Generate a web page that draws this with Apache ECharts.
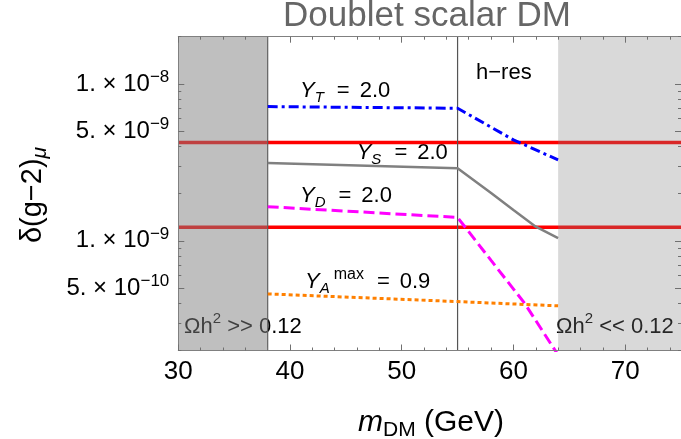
<!DOCTYPE html>
<html><head><meta charset="utf-8">
<script src="https://cdn.jsdelivr.net/npm/echarts@6/dist/echarts.min.js"></script>
<style>html,body{margin:0;padding:0;background:#fff}#c{width:681px;height:439px}</style>
</head><body><div id="c"></div>
<script>
const FONT = "'Liberation Sans', Arial, sans-serif";
const xMin = 30, xMax = 75;
const yMin = 2e-10, yMax = 2e-8;
const xMajorTicks = [30, 40, 50, 60, 70];
const xMinorTicks = [32,34,36,38,42,44,46,48,52,54,56,58,62,64,66,68,72,74];
const yMajorTicks = [5e-10, 1e-9, 5e-9, 1e-8];
const yTickMantissa = ['5.', '1.', '5.', '1.'];
const yTickExponent = ['−10', '−9', '−9', '−8'];
const yMinorTicks = [2e-10,3e-10,4e-10,6e-10,7e-10,8e-10,9e-10,2e-9,3e-9,4e-9,6e-9,7e-9,8e-9,9e-9,2e-8];

// curves
const massYT = [38, 55, 60, 64];
const valYT  = [7.17e-9, 7.0e-9, 4.4e-9, 3.28e-9];
const massYS = [38, 55, 58, 60, 62, 64];
const valYS  = [3.13e-9, 2.9e-9, 2.02e-9, 1.57e-9, 1.23e-9, 1.04e-9];
const massYD = [38, 55, 58, 61, 64];
const valYD  = [1.65e-9, 1.41e-9, 7.5e-10, 4.0e-10, 1.87e-10];
const massYA = [38, 55, 64];
const valYA  = [4.59e-10, 4.1e-10, 3.85e-10];

// g-2 band limits, region edges, shaded regions
const bandLevels = [4.23e-9, 1.22e-9];
const regionEdges = [38, 55];
const shadedRanges = [[30, 38], [64, 75]];
const shadeColors = ['rgba(128,128,128,0.5)', 'rgba(128,128,128,0.3)'];

const zip = (a, b) => a.map((x, i) => [x, b[i]]);

function xAxisDef(pos, ticks, len, main) {
  return {
    type: 'value', min: xMin, max: xMax, position: pos, z: 20,
    axisLine: { show: main, onZero: false, lineStyle: { color: '#808080', width: 1 } },
    axisTick: { show: true, inside: true, length: len, customValues: ticks, lineStyle: { color: '#707070', width: 1 } },
    axisLabel: (main && pos === 'bottom') ? { show: true, customValues: ticks, fontSize: 26, color: '#000', fontFamily: FONT, margin: 8 } : { show: false },
    splitLine: { show: false }
  };
}
function yAxisDef(pos, ticks, len, main) {
  return {
    type: 'log', logBase: 10, min: yMin, max: yMax, position: pos, z: 20,
    axisLine: { show: main, onZero: false, lineStyle: { color: '#808080', width: 1 } },
    axisTick: { show: true, inside: true, length: len, customValues: ticks, lineStyle: { color: '#707070', width: 1 } },
    axisLabel: (main && pos === 'left') ? {
      show: true, customValues: ticks, margin: 9, align: 'right',
      formatter: function (v) {
        let best = 0, bd = Infinity;
        yMajorTicks.forEach((t, i) => { const d = Math.abs(Math.log10(v) - Math.log10(t)); if (d < bd) { bd = d; best = i; } });
        return '{a|' + yTickMantissa[best] + ' × 10}{s|' + yTickExponent[best] + '}';
      },
      rich: {
        a: { fontSize: 24, fontFamily: FONT, color: '#000', lineHeight: 30, verticalAlign: 'middle' },
        s: { fontSize: 17, fontFamily: FONT, color: '#000', lineHeight: 17, verticalAlign: 'top' }
      }
    } : { show: false },
    splitLine: { show: false }
  };
}

const lineBase = { type: 'line', showSymbol: false, symbol: 'none', xAxisIndex: 0, yAxisIndex: 0, silent: true };

const series = [];
bandLevels.forEach(l => series.push(Object.assign({}, lineBase, {
  data: [[xMin, l], [xMax, l]], lineStyle: { color: '#ff0000', width: 3.5 }, z: 2
})));
regionEdges.forEach(e => series.push(Object.assign({}, lineBase, {
  data: [[e, yMin], [e, yMax]], lineStyle: { color: '#555555', width: 1.2 }, z: 3
})));
series.push(Object.assign({}, lineBase, { data: zip(massYT, valYT), lineStyle: { color: '#0000ff', width: 3, type: [10, 4, 3, 4] }, z: 4 }));
series.push(Object.assign({}, lineBase, { data: zip(massYS, valYS), lineStyle: { color: '#808080', width: 2.5 }, z: 4 }));
series.push(Object.assign({}, lineBase, { data: zip(massYD, valYD), lineStyle: { color: '#ff00ff', width: 3, type: [11, 5] }, z: 4 }));
series.push(Object.assign({}, lineBase, { data: zip(massYA, valYA), lineStyle: { color: '#ff8000', width: 3, type: [4, 3] }, z: 4 }));
series.push(Object.assign({}, lineBase, {
  data: [], z: 10,
  markArea: {
    silent: true, z: 10,
    data: shadedRanges.map((r, i) => [{ xAxis: r[0], itemStyle: { color: shadeColors[i] } }, { xAxis: r[1] }])
  }
}));

function txt(x, y, text, rich, extra) {
  return Object.assign({ type: 'text', x: x, y: y, z: 0, silent: true,
    style: { text: text, rich: rich, align: 'left', verticalAlign: 'middle' } }, extra || {});
}
const R = {
  y: { fontSize: 22, fontStyle: 'italic', fontFamily: FONT, fill: '#000', lineHeight: 30, verticalAlign: 'middle' },
  s: { fontSize: 15, fontStyle: 'italic', fontFamily: FONT, fill: '#000', lineHeight: 16, verticalAlign: 'bottom' },
  p: { fontSize: 16, fontFamily: FONT, fill: '#000', lineHeight: 16, verticalAlign: 'top', padding: [0, 0, 0, 4] },
  e: { fontSize: 22, fontFamily: FONT, fill: '#000', lineHeight: 30, verticalAlign: 'middle', padding: [0, 10, 0, 13] },
  n: { fontSize: 22, fontFamily: FONT, fill: '#000', lineHeight: 30, verticalAlign: 'middle' },
  t: { fontSize: 22, fontFamily: FONT, fill: '#000', lineHeight: 30, verticalAlign: 'middle' },
  q: { fontSize: 15, fontFamily: FONT, fill: '#000', lineHeight: 16, verticalAlign: 'top' }
};

const option = {
  animation: false,
  backgroundColor: '#fff',
  grid: { left: 178.3, right: -4, top: 36.7, bottom: 88.5, containLabel: false },
  xAxis: [
    xAxisDef('bottom', xMajorTicks, 6, true),
    xAxisDef('bottom', xMinorTicks, 3, false),
    xAxisDef('top', xMajorTicks, 6, true),
    xAxisDef('top', xMinorTicks, 3, false)
  ],
  yAxis: [
    yAxisDef('left', yMajorTicks, 6, true),
    yAxisDef('left', yMinorTicks, 3, false),
    yAxisDef('right', yMajorTicks, 6, true),
    yAxisDef('right', yMinorTicks, 3, false)
  ],
  series: series,
  graphic: [
    { type: 'text', x: 427, y: 16, silent: true, style: { text: 'Doublet scalar DM', fontSize: 35, fontFamily: FONT, fill: '#666666', align: 'center', verticalAlign: 'middle' } },
    txt(300, 90.8, '{y|Y}{s|T}{e|=}{n|2.0}', R),
    txt(356.7, 152.5, '{y|Y}{s|S}{e|=}{n|2.0}', R),
    txt(300, 195.8, '{y|Y}{s|D}{e|=}{n|2.0}', R),
    txt(305, 281.7, '{y|Y}{s|A}{p|max}{e|=}{n|0.9}', R),
    txt(476, 72.5, '{t|h−res}', R),
    txt(184, 326.5, '{t|Ωh}{q|2}{t| >> 0.12}', R),
    txt(556, 326.5, '{t|Ωh}{q|2}{t| << 0.12}', R),
    { type: 'text', x: 358, y: 423, silent: true, style: { text: '{m|m}{d|DM}{g| (GeV)}', align: 'left', verticalAlign: 'middle',
      rich: {
        m: { fontSize: 30, fontStyle: 'italic', fontFamily: FONT, fill: '#000', lineHeight: 36, verticalAlign: 'middle' },
        d: { fontSize: 21, fontFamily: FONT, fill: '#000', lineHeight: 22, verticalAlign: 'bottom' },
        g: { fontSize: 30, fontFamily: FONT, fill: '#000', lineHeight: 36, verticalAlign: 'middle' }
      } } },
    { type: 'text', x: 33, y: 195, rotation: Math.PI / 2, silent: true, style: { text: '{m|δ(g−2)}{d|μ}', align: 'center', verticalAlign: 'middle',
      rich: {
        m: { fontSize: 29, fontFamily: FONT, fill: '#000', lineHeight: 36, verticalAlign: 'middle' },
        d: { fontSize: 21, fontStyle: 'italic', fontFamily: FONT, fill: '#000', lineHeight: 22, verticalAlign: 'bottom' }
      } } }
  ]
};
const chart = echarts.init(document.getElementById('c'), null, { renderer: 'canvas' });
chart.setOption(option);
</script>
</body></html>
